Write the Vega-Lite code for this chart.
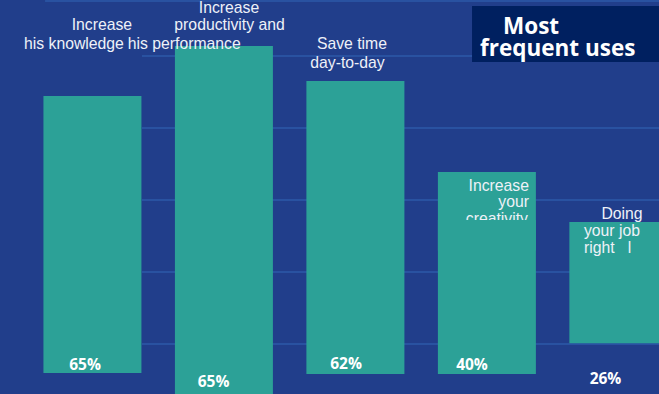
{
  "$schema": "https://vega.github.io/schema/vega-lite/v6.json",
  "width": 659,
  "height": 394,
  "padding": 0,
  "autosize": {"type": "none"},
  "background": "#213e8b",
  "config": {"view": {"stroke": null}},
  "datasets": {
    "grid": [
      {"level": 0, "start": 1.377, "end": 5.309},
      {"level": 20, "start": 1.377, "end": 5.309},
      {"level": 40, "start": 1.377, "end": 5.309},
      {"level": 60, "start": 1.377, "end": 5.309},
      {"level": 80, "start": 1.377, "end": 5.309},
      {"level": 95.3, "start": 0.64, "end": 5.309}
    ],
    "bars": [
      {"item": "Increase his knowledge", "pos": 1, "pct": "65%", "high": 68.9, "low": -8.06},
      {"item": "Increase productivity and his performance", "pos": 2, "pct": "65%", "high": 82.8, "low": -15},
      {"item": "Save time day-to-day", "pos": 3, "pct": "62%", "high": 73.06, "low": -8.33},
      {"item": "Increase your creativity", "pos": 4, "pct": "40%", "high": 47.78, "low": -8.33},
      {"item": "Doing your job right", "pos": 5, "pct": "26%", "high": 33.89, "low": 0.2}
    ],
    "cover": [
      {"pos": 4, "high": 34.44, "low": 26}
    ],
    "box": [
      {"x1": 3.887, "x2": 5.309, "y1": 93.89, "y2": 78.33}
    ],
    "labels": [
      {"text": "Increase", "pos": 2.0388, "v": 91.94, "align": "center"},
      {"text": "productivity and", "pos": 2.0426, "v": 87.36, "align": "center"},
      {"text": "Increase", "pos": 1.0715, "v": 87.36, "align": "center"},
      {"text": "his knowledge", "pos": 0.4798, "v": 81.94, "align": "left"},
      {"text": "his performance", "pos": 2.1278, "v": 81.94, "align": "right"},
      {"text": "Save time", "pos": 2.974, "v": 82.06, "align": "center"},
      {"text": "day-to-day", "pos": 2.94, "v": 76.67, "align": "center"},
      {"text": "Increase", "pos": 4.3202, "v": 42.61, "align": "right"},
      {"text": "your", "pos": 4.3202, "v": 37.97, "align": "right"},
      {"text": "creativity", "pos": 4.3125, "v": 33.3, "align": "right"},
      {"text": "Doing", "pos": 5.0274, "v": 34.83, "align": "center"},
      {"text": "your job", "pos": 4.7384, "v": 30.0, "align": "left"},
      {"text": "right\u00a0\u00a0\u00a0l", "pos": 4.7384, "v": 25.28, "align": "left"}
    ],
    "title": [
      {"text": "Most", "pos": 4.1228, "v": 86.2},
      {"text": "frequent uses", "pos": 3.9479, "v": 79.9}
    ],
    "pcts": [
      {"text": "65%", "pos": 0.9437, "v": -7.22},
      {"text": "65%", "pos": 1.9209, "v": -11.94},
      {"text": "62%", "pos": 2.9285, "v": -6.94},
      {"text": "40%", "pos": 3.8867, "v": -7.22},
      {"text": "26%", "pos": 4.9019, "v": -11.11}
    ]
  },
  "layer": [
    {
      "data": {"name": "grid"},
      "mark": {"type": "rule", "color": "#2c5aa8", "strokeWidth": 1.6, "clip": true},
      "encoding": {
        "x": {"field": "start", "type": "quantitative", "scale": {"domain": [0.297, 5.309], "nice": false, "zero": false, "padding": 0}, "axis": null},
        "x2": {"field": "end"},
        "y": {"field": "level", "type": "quantitative", "scale": {"domain": [-13.89, 95.56], "nice": false, "zero": false, "padding": 0}, "axis": null}
      }
    },
    {
      "data": {"name": "bars"},
      "mark": {"type": "bar", "color": "#2ca197", "size": 98, "clip": true},
      "encoding": {
        "x": {"field": "pos", "type": "quantitative"},
        "y": {"field": "high", "type": "quantitative"},
        "y2": {"field": "low"}
      }
    },
    {
      "data": {"name": "box"},
      "mark": {"type": "rect", "color": "#002060", "clip": true},
      "encoding": {
        "x": {"field": "x1", "type": "quantitative"},
        "x2": {"field": "x2"},
        "y": {"field": "y1", "type": "quantitative"},
        "y2": {"field": "y2"}
      }
    },
    {
      "data": {"name": "labels"},
      "transform": [{"filter": "datum.align === 'center'"}],
      "mark": {"type": "text", "font": "Liberation Sans", "fontSize": 15.75, "color": "#eef1f8", "align": "center", "baseline": "alphabetic"},
      "encoding": {
        "x": {"field": "pos", "type": "quantitative"},
        "y": {"field": "v", "type": "quantitative"},
        "text": {"field": "text"}
      }
    },
    {
      "data": {"name": "labels"},
      "transform": [{"filter": "datum.align === 'left'"}],
      "mark": {"type": "text", "font": "Liberation Sans", "fontSize": 15.75, "color": "#eef1f8", "align": "left", "baseline": "alphabetic"},
      "encoding": {
        "x": {"field": "pos", "type": "quantitative"},
        "y": {"field": "v", "type": "quantitative"},
        "text": {"field": "text"}
      }
    },
    {
      "data": {"name": "labels"},
      "transform": [{"filter": "datum.align === 'right'"}],
      "mark": {"type": "text", "font": "Liberation Sans", "fontSize": 15.75, "color": "#eef1f8", "align": "right", "baseline": "alphabetic"},
      "encoding": {
        "x": {"field": "pos", "type": "quantitative"},
        "y": {"field": "v", "type": "quantitative"},
        "text": {"field": "text"}
      }
    },
    {
      "data": {"name": "cover"},
      "mark": {"type": "bar", "color": "#2ca197", "size": 98, "clip": true},
      "encoding": {
        "x": {"field": "pos", "type": "quantitative"},
        "y": {"field": "high", "type": "quantitative"},
        "y2": {"field": "low"}
      }
    },
    {
      "data": {"name": "title"},
      "mark": {"type": "text", "font": "Open Sans", "fontWeight": "bold", "fontSize": 22.5, "color": "#ffffff", "align": "left", "baseline": "alphabetic"},
      "encoding": {
        "x": {"field": "pos", "type": "quantitative"},
        "y": {"field": "v", "type": "quantitative"},
        "text": {"field": "text"}
      }
    },
    {
      "data": {"name": "pcts"},
      "mark": {"type": "text", "font": "Open Sans", "fontWeight": "bold", "fontSize": 15.5, "color": "#ffffff", "align": "center", "baseline": "alphabetic"},
      "encoding": {
        "x": {"field": "pos", "type": "quantitative"},
        "y": {"field": "v", "type": "quantitative"},
        "text": {"field": "text"}
      }
    }
  ]
}
